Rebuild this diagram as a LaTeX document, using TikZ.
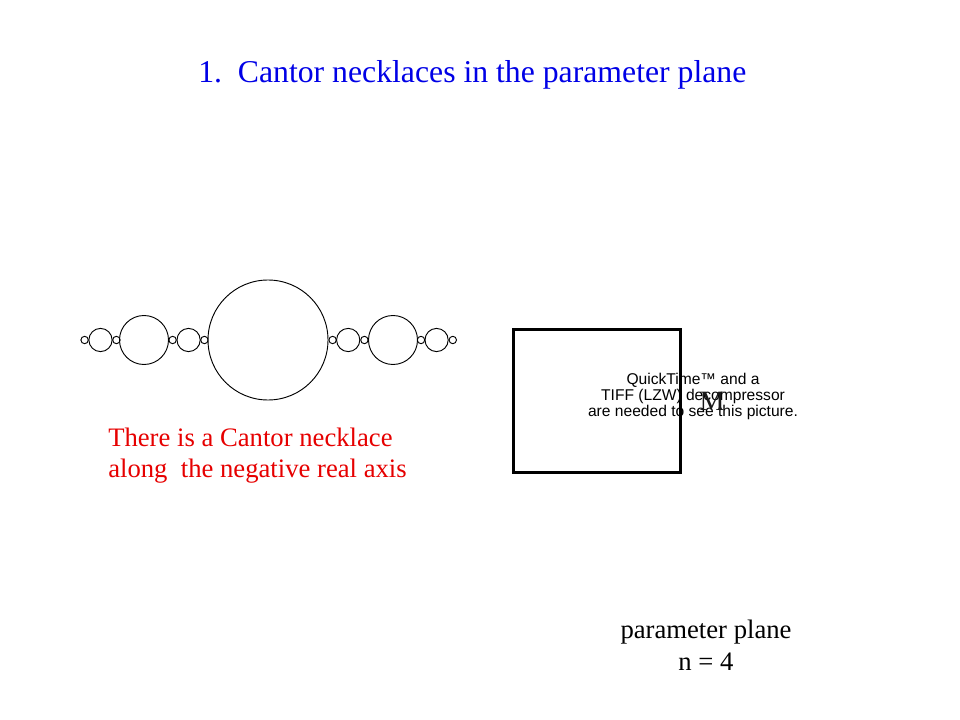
\documentclass[tikz,border=0pt]{standalone}
\usepackage{fontspec}
\setmainfont{Liberation Serif}
\newfontfamily\qtfont{Liberation Sans}
\usetikzlibrary{positioning}
\definecolor{titleblue}{RGB}{0,0,230}
\definecolor{notered}{RGB}{230,0,0}
\definecolor{mgray}{RGB}{25,25,25}

\begin{document}
\begin{tikzpicture}[x=0.75pt,y=-0.75pt]
\useasboundingbox (0,0) rectangle (960,720);

\tikzset{bead/.style={black, line width=0.7pt}}

% title
\node[anchor=base west, inner sep=0, text=titleblue, font=\fontsize{23.8}{28}\selectfont] (title) at (198,83) {1.\ \ Cantor necklaces in the parameter plane};

% the necklace
\draw[bead] (268,340) circle (60);
\draw[bead] (144,340) circle (24.5);
\draw[bead] (393,340) circle (24.5);

\draw[bead] (100.5,340) circle (11.6);
\draw[bead] (188.6,340) circle (11.6);
\draw[bead] (348.2,340) circle (11.6);
\draw[bead] (436.6,340) circle (11.6);

\draw[bead] (84.6,340) circle (3.7);
\draw[bead] (116.4,340) circle (3.7);
\draw[bead] (172.6,340) circle (3.7);
\draw[bead] (204.4,340) circle (3.7);
\draw[bead] (332.6,340) circle (3.7);
\draw[bead] (364.4,340) circle (3.7);
\draw[bead] (421,340) circle (3.7);
\draw[bead] (452.8,340) circle (3.7);

\node[anchor=base west, inner sep=0, text=notered, align=left, font=\fontsize{20}{23}\selectfont] (necklace) at (108,477) {There is a Cantor necklace\\ along\ \ the negative real axis};

% parameter plane picture
\draw[black, line width=2.25pt] (513,329) rectangle (680,472);
\node[inner sep=0, align=center, font=\qtfont\fontsize{11.7}{12}\selectfont] (qt) at (693,396) {QuickTime™ and a\\ TIFF (LZW) decompressor\\ are needed to see this picture.};
\node[anchor=base, inner sep=0, text=mgray, font=\fontsize{21}{24}\selectfont] (M) at (712,410) {M};

\node[anchor=base, inner sep=0, align=center, font=\fontsize{20}{24}\selectfont] (plane) at (706,670) {parameter plane\\ n = 4};

\end{tikzpicture}
\end{document}
